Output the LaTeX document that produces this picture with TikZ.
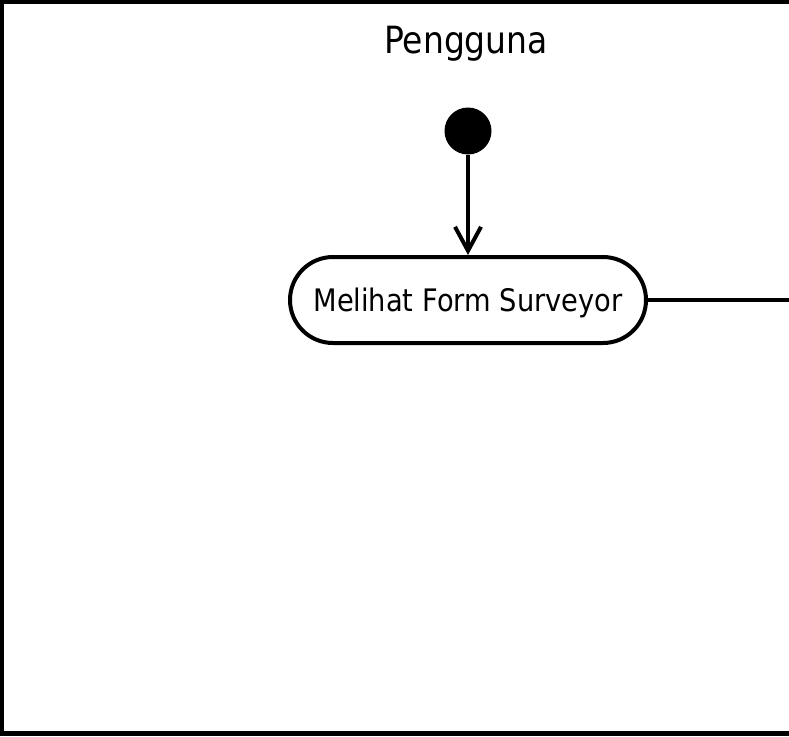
\documentclass[tikz,border=0pt]{standalone}
\usepackage{fontspec}
\setmainfont{DejaVu Sans}[FakeStretch=0.88]
\usetikzlibrary{arrows.meta}
\begin{document}
\begin{tikzpicture}[x=1pt,y=-1pt,
  frameline/.style={line width=4.5pt},
  actbox/.style={draw,line width=4pt,rounded corners=43pt,minimum width=356pt,minimum height=86pt,inner sep=0pt,text height=26pt,text depth=4pt,font=\fontsize{31}{36}\selectfont},
  startdot/.style={circle,fill=black,minimum size=47pt,inner sep=0pt},
  flow/.style={line width=4pt,-{Straight Barb[length=24pt,width=26pt,line width=4pt]}},
  plain/.style={line width=4pt}]
\useasboundingbox (0,0) rectangle (789,736);
\draw[frameline] (789,2) -- (2,2) -- (2,733.5) -- (789,733.5);
\node[font=\fontsize{37.5}{44}\selectfont] (lane) at (466,44) {Pengguna};
\node[startdot] (start) at (468,131) {};
\node[actbox] (act) at (468,300) {Melihat Form Surveyor};
\coordinate (out) at (789,300);
\draw[flow] (start) -- (act);
\draw[plain] (act.east) -- (out);
\end{tikzpicture}
\end{document}
